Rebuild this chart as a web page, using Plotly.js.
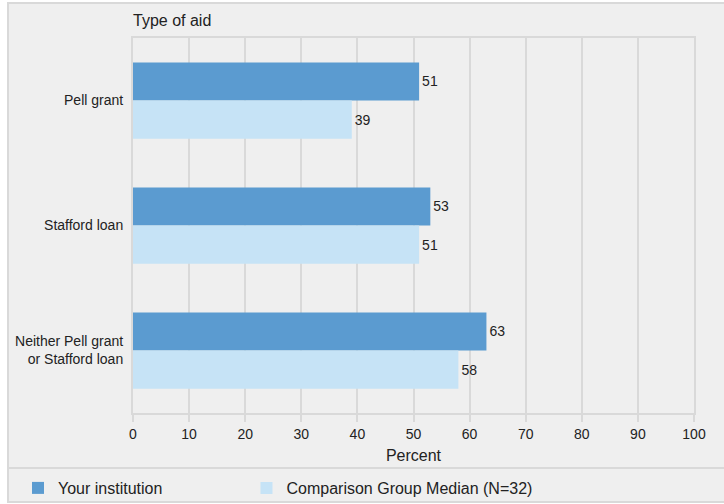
<!DOCTYPE html>
<html>
<head>
<meta charset="utf-8">
<script src="https://cdn.plot.ly/plotly-3.0.1.min.js"></script>
<style>
  html, body { margin: 0; padding: 0; background: #ffffff; }
  #wrap { position: absolute; left: 7px; top: 2px; border-left: 2px solid #d9d9d9; border-top: 2px solid #d9d9d9; border-bottom: 2px solid #d9d9d9; background: #efefef; }
  #chart { width: 715px; height: 497px; }
</style>
</head>
<body>
<div id="wrap"><div id="chart"></div></div>
<script>
const categories = ["Pell grant", "Stafford loan", "Neither Pell grant<br>or Stafford loan"];
const yourInstitution = [51, 53, 63];
const comparisonMedian = [39, 51, 58];
const seriesNames = ["Your institution", "Comparison Group Median (N=32)"];
const xTicks = [0, 10, 20, 30, 40, 50, 60, 70, 80, 90, 100];

const FONT = "Liberation Sans, Arial, Helvetica, sans-serif";
const TXT = "#222222";

const traces = [
  {
    type: "bar", orientation: "h", name: seriesNames[0],
    y: categories, x: yourInstitution,
    marker: { color: "#5b9bd0" },
    text: yourInstitution.map(String), textposition: "outside",
    textfont: { size: 14, color: TXT, family: FONT },
    cliponaxis: false, hoverinfo: "skip", legend: "legend"
  },
  {
    type: "bar", orientation: "h", name: seriesNames[1],
    y: categories, x: comparisonMedian,
    marker: { color: "#c6e3f6" },
    text: comparisonMedian.map(String), textposition: "outside",
    textfont: { size: 14, color: TXT, family: FONT },
    cliponaxis: false, hoverinfo: "skip", legend: "legend2"
  }
];

const legendCommon = {
  orientation: "h", xanchor: "left", y: -0.2, yanchor: "middle",
  font: { size: 16, color: TXT, family: FONT }, bgcolor: "rgba(0,0,0,0)"
};

const layout = {
  width: 715, height: 497,
  margin: { l: 124, r: 30, t: 34, b: 88, pad: 0, autoexpand: false },
  paper_bgcolor: "#efefef", plot_bgcolor: "#efefef",
  font: { family: FONT, size: 14, color: TXT },
  barmode: "group", bargap: 0.39, bargroupgap: 0,
  title: {
    text: "Type of aid", font: { size: 16, color: TXT, family: FONT },
    xref: "paper", x: 0, xanchor: "left",
    yref: "container", y: 1 - 16 / 497, yanchor: "middle"
  },
  xaxis: {
    range: [0, 100], tickvals: xTicks, ticktext: xTicks.map(String),
    showgrid: true, gridcolor: "#d9d9d9", gridwidth: 2,
    zeroline: false,
    showline: true, linecolor: "#d9d9d9", linewidth: 2, mirror: true,
    ticks: "outside", ticklen: 7, tickwidth: 2, tickcolor: "#d9d9d9",
    ticklabelstandoff: 0,
    tickfont: { size: 14, color: TXT },
    title: { text: "Percent", font: { size: 16, color: TXT }, standoff: 9 },
    automargin: false, fixedrange: true
  },
  yaxis: {
    categoryorder: "array", categoryarray: categories,
    autorange: "reversed",
    showgrid: false, zeroline: false,
    showline: true, linecolor: "#d9d9d9", linewidth: 2, mirror: true,
    ticks: "", ticklabelstandoff: 5,
    tickfont: { size: 14, color: TXT },
    automargin: false, fixedrange: true
  },
  showlegend: true,
  legend: Object.assign({ x: -0.205 }, legendCommon),
  legend2: Object.assign({ x: 0.2023 }, legendCommon),
  shapes: [
    { type: "line", xref: "paper", yref: "paper", x0: -0.3, x1: 1.2, y0: -55 / 375, y1: -55 / 375,
      line: { color: "#d9d9d9", width: 2 }, layer: "below" }
  ]
};

Plotly.newPlot("chart", traces, layout, { displayModeBar: false, staticPlot: true });
</script>
</body>
</html>
